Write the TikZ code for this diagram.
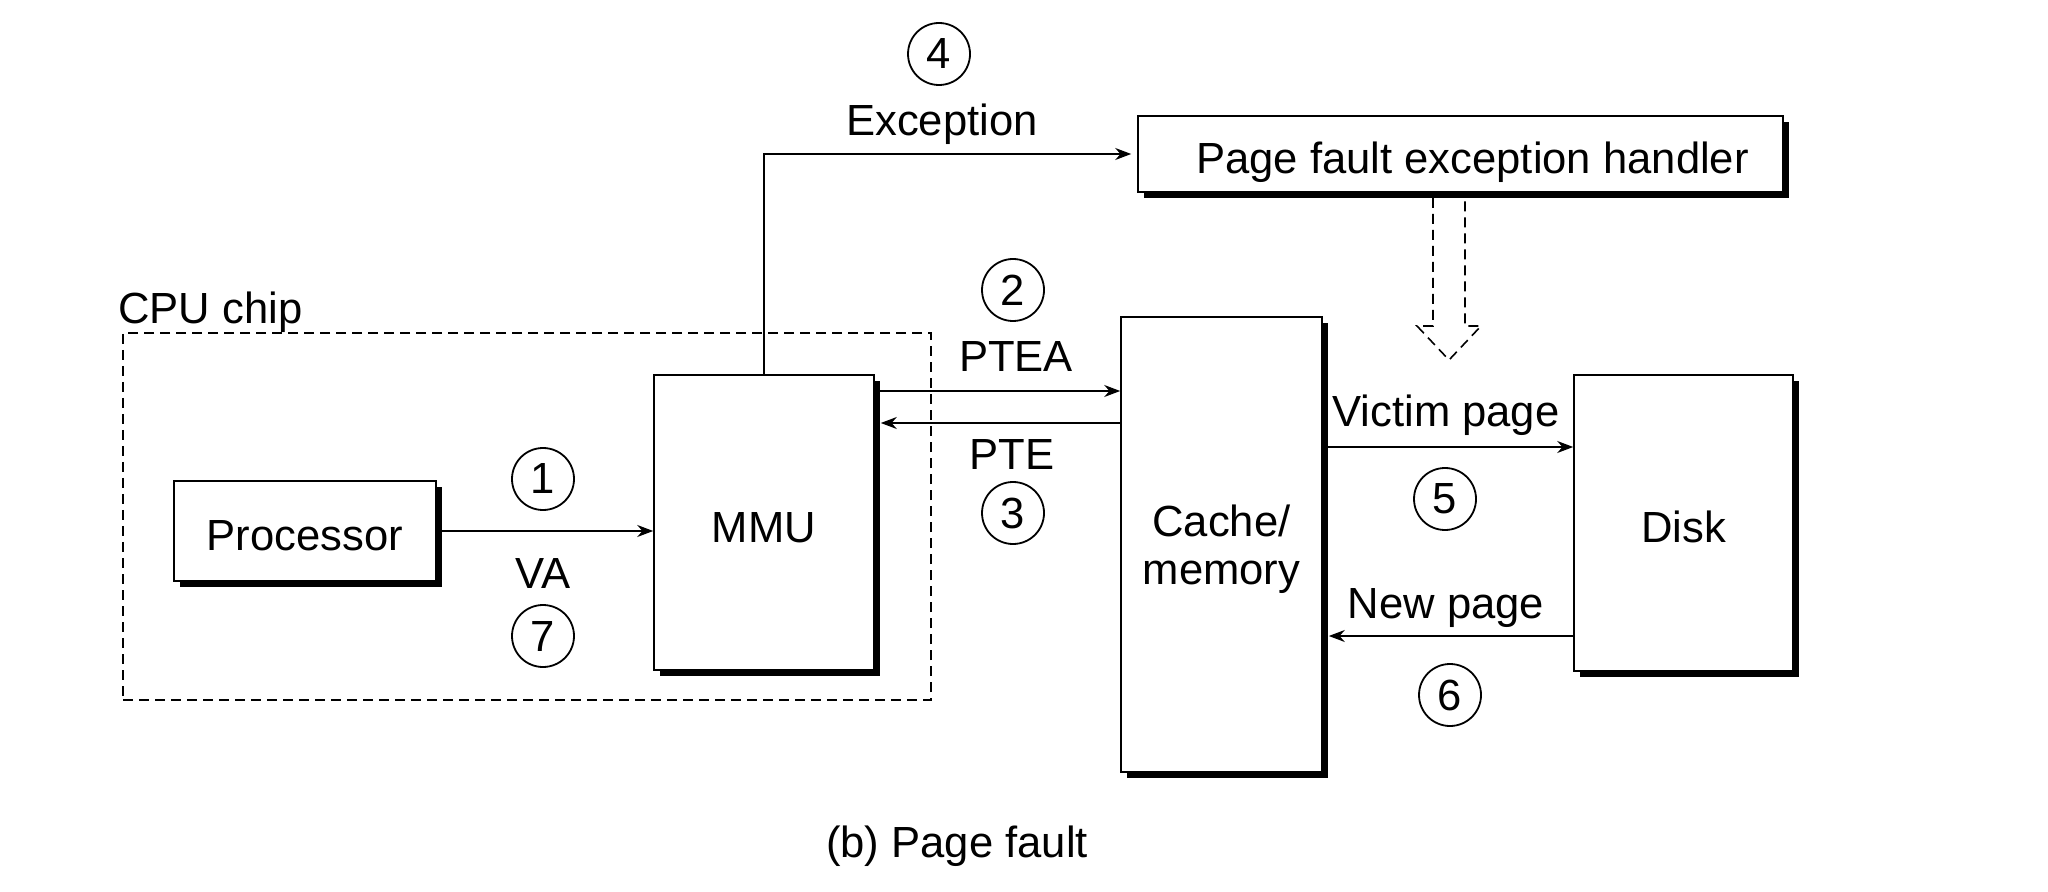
\documentclass[tikz,border=0pt]{standalone}
\usepackage{fontspec}
\setmainfont{Liberation Sans}
\usetikzlibrary{arrows.meta,shadows}
\begin{document}
\begin{tikzpicture}[x=0.5pt,y=-0.5pt,
  font=\fontsize{21.8pt}{24pt}\selectfont,
  box/.style={draw, line width=0.8pt, fill=white, inner sep=0pt,
    drop shadow={shadow xshift=3pt, shadow yshift=-3pt, fill=black, opacity=1}},
  one/.style={text height=19.5pt, text depth=0pt},
  num/.style={draw, circle, line width=0.9pt, minimum size=31pt, inner sep=0pt},
  lbl/.style={inner sep=0pt, anchor=base},
  arr/.style={line width=0.8pt, -{Stealth[length=8pt,width=6pt]}},
  dsh/.style={line width=0.8pt, dash pattern=on 5pt off 3pt},
]
\useasboundingbox (0,0) rectangle (2048,892);
% CPU chip region
\node[dsh, draw, minimum width=404pt, minimum height=183.5pt, inner sep=0pt] (cpu) at (527,516.5) {};
\node[lbl, anchor=base west] (cpulbl) at (118,324) {CPU chip};
% boxes
\node[box, one, minimum width=131pt, minimum height=50pt] (proc) at (305,531) {Processor};
\node[box, one, minimum width=110pt, minimum height=147.5pt] (mmu) at (764,522.5) {MMU};
\node[box, text depth=0pt, minimum width=100.5pt, minimum height=227.5pt, align=center] (cache) at (1221.5,544.5) {Cache/\\memory};
\node[box, one, minimum width=109.5pt, minimum height=148pt] (disk) at (1683.5,523) {Disk};
\node[box, one, minimum width=322.5pt, minimum height=38pt] (handler) at (1460.5,154) {\hspace*{12pt}Page fault exception handler};
% labels
\node[num] (n1) at (543,479) {1};
\node[lbl] (va) at (543,588) {VA};
\node[num] (n7) at (543,636) {7};
\node[num] (n2) at (1013,290) {2};
\node[lbl] (ptea) at (1016,372) {PTEA};
\node[lbl] (pte) at (1012,469) {PTE};
\node[num] (n3) at (1013,513) {3};
\node[num] (n4) at (939,54) {4};
\node[lbl] (exc) at (942,136) {Exception};
\node[lbl] (victim) at (1446,427) {Victim page};
\node[num] (n5) at (1445,499) {5};
\node[lbl] (newp) at (1446,618) {New page};
\node[num] (n6) at (1450,695) {6};
\node[lbl] (cap) at (957,857) {(b) Page fault};
% helper coordinates
\coordinate (yptea) at (0,391);
\coordinate (ypte) at (0,423);
\coordinate (yvic) at (0,447);
\coordinate (ynew) at (0,636);
% connectors
\draw[arr] (proc.east) -- (mmu.west |- proc.east);
\draw[arr] (mmu.east |- yptea) -- (cache.west |- yptea);
\draw[arr, shorten >=3pt] (cache.west |- ypte) -- (mmu.east |- ypte);
\draw[arr, shorten >=3pt] (mmu.north) |- (handler.west);
\draw[arr] (cache.east |- yvic) -- (disk.west |- yvic);
\draw[arr, shorten >=3pt] (disk.west |- ynew) -- (cache.east |- ynew);
% hollow dashed arrow
\draw[dsh] (1433,198) -- (1433,326) -- (1417,326) -- (1449,360) -- (1481,326) -- (1465,326) -- (1465,198);
\end{tikzpicture}
\end{document}
